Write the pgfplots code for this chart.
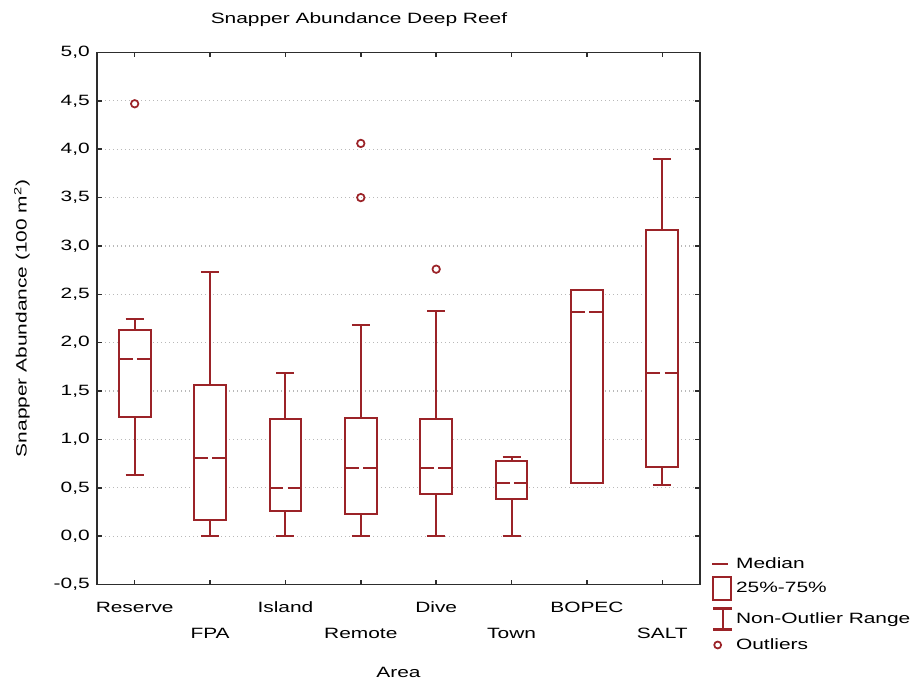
\documentclass[border=0pt]{standalone}
\usepackage{fontspec}
\setmainfont{Liberation Sans}[FakeStretch=1.4]
\usepackage{pgfplots}
\pgfplotsset{compat=1.18}
\usepgfplotslibrary{statistics}
\definecolor{boxred}{RGB}{155,35,40}
\definecolor{gridgray}{RGB}{185,185,185}
\definecolor{framegray}{RGB}{45,45,45}
\newcommand{\chartfont}{\fontsize{11.2pt}{13pt}\selectfont}
\begin{document}
\chartfont
\begin{tikzpicture}
\useasboundingbox (0,0) rectangle (687.75pt,512.25pt);
\begin{axis}[
  at={(72.75pt,73.875pt)}, anchor=south west,
  scale only axis, width=452.25pt, height=399pt,
  xmin=-0.5, xmax=7.5, ymin=-0.5, ymax=5.0,
  ytick={-0.5,0,0.5,1,1.5,2,2.5,3,3.5,4,4.5,5},
  yticklabel style={/pgf/number format/fixed, /pgf/number format/fixed zerofill, /pgf/number format/precision=1, /pgf/number format/use comma, /pgf/number format/assume math mode=true},
  yticklabel style={anchor=east, xshift=-1.5pt, font=\chartfont},
  xtick={0,2,4,6},
  xticklabels={Reserve,Island,Dive,BOPEC},
  extra x ticks={1,3,5,7},
  extra x tick labels={FPA,Remote,Town,SALT},
  extra x tick style={xticklabel style={yshift=-19.5pt}},
  xticklabel style={anchor=center, yshift=-16.9pt, font=\chartfont},
  tick align=inside,
  major tick length=3.5pt,
  every tick/.style={framegray, line width=1.1pt},
  axis line style={framegray, line width=1.2pt},
  ymajorgrids,
  grid style={gridgray, line width=0.9pt, dash pattern=on 1.1pt off 1.9pt},
  title={Snapper Abundance Deep Reef},
  title style={at={(0.4345,1)}, anchor=center, yshift=18.4pt, font=\chartfont},
  xlabel={Area},
  xlabel style={at={(0.5,0)}, anchor=center, yshift=-65.6pt, font=\chartfont},
  ylabel={Snapper Abundance (100 m\textsuperscript{2})},
  ylabel style={at={(-0.1244,0.5)}, anchor=center, font=\chartfont},
  boxplot/draw direction=y,
  boxplot/box extend=0.42,
  boxplot/whisker extend=0.24,
  boxplot/every box/.style={fill=white},
  boxplot/every median/.style={dash pattern=on 10.35pt off 3.2pt},
  bp/.style={forget plot, draw=boxred, line width=1.5pt, solid, mark=o, mark size=2.8pt,
    mark options={boxred, fill=white, line width=1.3pt, solid}},
  legend style={draw=none, fill=none, at={(1.0183,0.0635)}, anchor=north west,
    font=\chartfont, inner sep=0pt, row sep=0pt},
  legend cell align=left,
]
\addplot[bp, boxplot prepared={draw position=0, lower whisker=0.63, lower quartile=1.23, median=1.83, upper quartile=2.13, upper whisker=2.25}] table[row sep=\\, y index=0] {data\\ 4.47\\};
\addplot[bp, boxplot prepared={draw position=1, lower whisker=0, lower quartile=0.17, median=0.81, upper quartile=1.56, upper whisker=2.73}] coordinates {};
\addplot[bp, boxplot prepared={draw position=2, lower whisker=0, lower quartile=0.26, median=0.50, upper quartile=1.21, upper whisker=1.69}] coordinates {};
\addplot[bp, boxplot prepared={draw position=3, lower whisker=0, lower quartile=0.23, median=0.70, upper quartile=1.22, upper whisker=2.18}] table[row sep=\\, y index=0] {data\\ 4.06\\ 3.50\\};
\addplot[bp, boxplot prepared={draw position=4, lower whisker=0, lower quartile=0.44, median=0.70, upper quartile=1.21, upper whisker=2.33}] table[row sep=\\, y index=0] {data\\ 2.76\\};
\addplot[bp, boxplot prepared={draw position=5, lower whisker=0, lower quartile=0.38, median=0.55, upper quartile=0.78, upper whisker=0.82}] coordinates {};
\addplot[bp, boxplot prepared={draw position=6, lower whisker=0.55, lower quartile=0.55, median=2.32, upper quartile=2.54, upper whisker=2.54}] coordinates {};
\addplot[bp, boxplot prepared={draw position=7, lower whisker=0.53, lower quartile=0.71, median=1.69, upper quartile=3.17, upper whisker=3.90}] coordinates {};

\addlegendimage{legend image code/.code={
  \path[draw=none, fill=none] (0pt,-8pt) rectangle (15pt,10pt);
  \draw[boxred, line width=1.6pt] (0pt,0pt) -- (12pt,0pt);}}
\addlegendentry{Median}
\addlegendimage{legend image code/.code={
  \path[draw=none, fill=none] (0pt,-11.5pt) rectangle (15pt,10pt);
  \draw[boxred, line width=1.6pt, fill=none] (0.7pt,-8.6pt) rectangle (14pt,8.6pt);}}
\addlegendentry{25\%-75\%}
\addlegendimage{legend image code/.code={
  \path[draw=none, fill=none] (0pt,-9.75pt) rectangle (15pt,11.5pt);
  \draw[boxred, line width=1.6pt] (0.5pt,-7.9pt) -- (15pt,-7.9pt) (7.75pt,-7.9pt) -- (7.75pt,7.9pt) (0.5pt,7.9pt) -- (15pt,7.9pt);}}
\addlegendentry{Non-Outlier Range}
\addlegendimage{legend image code/.code={
  \path[draw=none, fill=none] (0pt,-10pt) rectangle (15pt,9.75pt);
  \draw[boxred, line width=1.3pt, fill=none] (4pt,0pt) circle (2.6pt);}}
\addlegendentry{Outliers}
\end{axis}
\end{tikzpicture}
\end{document}
